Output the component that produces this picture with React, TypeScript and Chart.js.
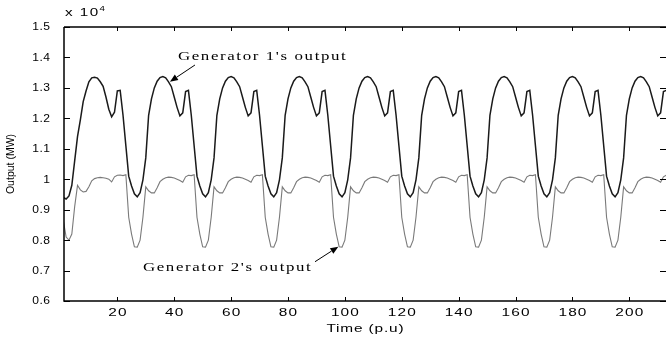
import { useEffect, useRef } from 'react';
import { Chart, registerables } from 'chart.js';

Chart.register(...registerables);

// ---- data (values in MW) ----
const timeStart = 1; // time of first sample (p.u), one sample per unit
const gen1Output = [
  9400, 9350, 9450, 9800, 10600,
  11400, 11950, 12550, 12900, 13200, 13330, 13350, 13320, 13200, 13050, 12700, 12300, 12050, 12200, 12900, 12920, 12100, 11100, 10100, 9780, 9520, 9420, 9560, 9980,
  10700, 12100, 12640, 13000, 13220, 13340, 13370, 13330, 13200, 13040, 12700, 12360, 12080, 12180, 12880, 12920, 12100, 11100, 10100, 9780, 9520, 9420, 9560, 9980,
  10700, 12100, 12640, 13000, 13220, 13340, 13370, 13330, 13200, 13040, 12700, 12360, 12080, 12180, 12880, 12920, 12100, 11100, 10100, 9780, 9520, 9420, 9560, 9980,
  10700, 12100, 12640, 13000, 13220, 13340, 13370, 13330, 13200, 13040, 12700, 12360, 12080, 12180, 12880, 12920, 12100, 11100, 10100, 9780, 9520, 9420, 9560, 9980,
  10700, 12100, 12640, 13000, 13220, 13340, 13370, 13330, 13200, 13040, 12700, 12360, 12080, 12180, 12880, 12920, 12100, 11100, 10100, 9780, 9520, 9420, 9560, 9980,
  10700, 12100, 12640, 13000, 13220, 13340, 13370, 13330, 13200, 13040, 12700, 12360, 12080, 12180, 12880, 12920, 12100, 11100, 10100, 9780, 9520, 9420, 9560, 9980,
  10700, 12100, 12640, 13000, 13220, 13340, 13370, 13330, 13200, 13040, 12700, 12360, 12080, 12180, 12880, 12920, 12100, 11100, 10100, 9780, 9520, 9420, 9560, 9980,
  10700, 12100, 12640, 13000, 13220, 13340, 13370, 13330, 13200, 13040, 12700, 12360, 12080, 12180, 12880, 12920, 12100, 11100, 10100, 9780, 9520, 9420, 9560, 9980,
  10700, 12100, 12640, 13000, 13220, 13340, 13370, 13330, 13200, 13040, 12700, 12360, 12080, 12180, 12880, 12920,
];
const gen2Output = [
  8650, 8100, 8000, 8200, 9100,
  9800, 9650, 9580, 9600, 9750, 9950, 10020, 10050, 10060, 10050, 10030, 10000, 9910, 10080, 10130, 10140, 10120, 10150, 8750, 8200, 7780, 7770, 8000, 8750,
  9750, 9620, 9550, 9550, 9720, 9920, 10000, 10050, 10070, 10060, 10040, 10000, 9960, 9900, 10080, 10130, 10120, 10150, 8750, 8200, 7780, 7770, 8000, 8750,
  9750, 9620, 9550, 9550, 9720, 9920, 10000, 10050, 10070, 10060, 10040, 10000, 9960, 9900, 10080, 10130, 10120, 10150, 8750, 8200, 7780, 7770, 8000, 8750,
  9750, 9620, 9550, 9550, 9720, 9920, 10000, 10050, 10070, 10060, 10040, 10000, 9960, 9900, 10080, 10130, 10120, 10150, 8750, 8200, 7780, 7770, 8000, 8750,
  9750, 9620, 9550, 9550, 9720, 9920, 10000, 10050, 10070, 10060, 10040, 10000, 9960, 9900, 10080, 10130, 10120, 10150, 8750, 8200, 7780, 7770, 8000, 8750,
  9750, 9620, 9550, 9550, 9720, 9920, 10000, 10050, 10070, 10060, 10040, 10000, 9960, 9900, 10080, 10130, 10120, 10150, 8750, 8200, 7780, 7770, 8000, 8750,
  9750, 9620, 9550, 9550, 9720, 9920, 10000, 10050, 10070, 10060, 10040, 10000, 9960, 9900, 10080, 10130, 10120, 10150, 8750, 8200, 7780, 7770, 8000, 8750,
  9750, 9620, 9550, 9550, 9720, 9920, 10000, 10050, 10070, 10060, 10040, 10000, 9960, 9900, 10080, 10130, 10120, 10150, 8750, 8200, 7780, 7770, 8000, 8750,
  9750, 9620, 9550, 9550, 9720, 9920, 10000, 10050, 10070, 10060, 10040, 10000, 9960, 9900, 10080, 10130,
];
const xTickValues = [20, 40, 60, 80, 100, 120, 140, 160, 180, 200];
const yTickValues = [6000, 7000, 8000, 9000, 10000, 11000, 12000, 13000, 14000, 15000];
const yTickLabels = ['0.6', '0.7', '0.8', '0.9', '1', '1.1', '1.2', '1.3', '1.4', '1.5'];
const xAxisTitle = 'Time (p.u)';
const yAxisTitle = 'Output (MW)';
const yExponentBase = 'x 10';
const yExponent = '4';
const seriesNames = ["Generator 1's output", "Generator 2's output"];

// annotation anchors in data units (time, MW)
const annotationText = [seriesNames[0], seriesNames[1]];
const annotationTextX = [41.3, 29.0];
const annotationTextY = [13932, 7001];
const arrowFromX = [47.3, 89.5];
const arrowFromY = [13752, 7290];
const arrowToX = [38.5, 97.7];
const arrowToY = [13203, 7783];

const X_MIN = 1.25;
const X_MAX = 212.9;
const Y_MIN = 6000;
const Y_MAX = 15000;

function drawText(
  ctx: CanvasRenderingContext2D,
  text: string,
  x: number,
  y: number,
  font: string,
  sx: number,
  ls: number,
  align: 'left' | 'center' | 'right',
  baseline: CanvasTextBaseline
) {
  ctx.save();
  ctx.font = font;
  (ctx as any).letterSpacing = ls + 'px';
  ctx.textAlign = 'left';
  ctx.textBaseline = baseline;
  const w = ctx.measureText(text).width - ls;
  const total = w * sx;
  const left = align === 'left' ? x : align === 'center' ? x - total / 2 : x - total;
  ctx.translate(left, y);
  ctx.scale(sx, 1);
  ctx.fillStyle = '#000';
  ctx.fillText(text, 0, 0);
  ctx.restore();
}

const matlabAxes = {
  id: 'matlabAxes',
  afterDraw(chart: any) {
    const ctx: CanvasRenderingContext2D = chart.ctx;
    const { left, right, top, bottom } = chart.chartArea;
    const xs = chart.scales.x;
    const ys = chart.scales.y;
    ctx.save();
    ctx.strokeStyle = '#000';
    ctx.lineWidth = 1.5;
    ctx.beginPath();
    ctx.moveTo(left, top);
    ctx.lineTo(left, bottom);
    ctx.lineTo(right, bottom);
    ctx.moveTo(left, top);
    ctx.lineTo(right, top);
    ctx.stroke();

    ctx.lineWidth = 1;
    ctx.beginPath();
    yTickValues.forEach((v) => {
      const py = Math.round(ys.getPixelForValue(v)) + 0.5;
      ctx.moveTo(left, py);
      ctx.lineTo(left + 6, py);
      ctx.moveTo(right, py);
      ctx.lineTo(right - 6, py);
    });
    xTickValues.forEach((v) => {
      const px = Math.round(xs.getPixelForValue(v)) + 0.5;
      ctx.moveTo(px, bottom);
      ctx.lineTo(px, bottom - 4);
      ctx.moveTo(px, top);
      ctx.lineTo(px, top + 4);
    });
    ctx.stroke();

    const tickFont = '10.5px "Liberation Sans", Arial, sans-serif';
    yTickValues.forEach((v, i) => {
      const py = ys.getPixelForValue(v);
      drawText(ctx, yTickLabels[i], 50, py + 0.5, tickFont, 1.15, 0.4, 'right', 'middle');
    });
    xTickValues.forEach((v) => {
      const px = xs.getPixelForValue(v);
      drawText(ctx, String(v), px, 316, '11px "Liberation Sans", Arial, sans-serif', 1.4, 0.8, 'center', 'alphabetic');
    });

    drawText(ctx, xAxisTitle, (left + right) / 2, 331.5, '11px "Liberation Sans", Arial, sans-serif', 1.4, 0.6, 'center', 'alphabetic');
    drawText(ctx, yExponentBase, 65, 16, '10.5px "Liberation Sans", Arial, sans-serif', 1.45, 1, 'left', 'alphabetic');
    drawText(ctx, yExponent, 99.5, 11, '7.5px "Liberation Sans", Arial, sans-serif', 1.3, 0, 'left', 'alphabetic');

    ctx.save();
    ctx.translate(11, (top + bottom) / 2);
    ctx.rotate(-Math.PI / 2);
    ctx.font = '10.5px "Liberation Sans", Arial, sans-serif';
    ctx.fillStyle = '#000';
    ctx.textAlign = 'center';
    ctx.textBaseline = 'middle';
    ctx.fillText(yAxisTitle, 0, 0);
    ctx.restore();

    // annotations with arrows
    annotationText.forEach((t, i) => {
      const tx = xs.getPixelForValue(annotationTextX[i]);
      const ty = ys.getPixelForValue(annotationTextY[i]);
      drawText(ctx, t, tx, ty, '12.5px "Liberation Serif", "Times New Roman", serif', 1.35, 1.2, 'left', 'alphabetic');
      const x0 = xs.getPixelForValue(arrowFromX[i]);
      const y0 = ys.getPixelForValue(arrowFromY[i]);
      const x1 = xs.getPixelForValue(arrowToX[i]);
      const y1 = ys.getPixelForValue(arrowToY[i]);
      const ang = Math.atan2(y1 - y0, x1 - x0);
      const hl = 8;
      const hw = 3.2;
      const bx = x1 - hl * Math.cos(ang);
      const by = y1 - hl * Math.sin(ang);
      ctx.strokeStyle = '#000';
      ctx.lineWidth = 1;
      ctx.beginPath();
      ctx.moveTo(x0, y0);
      ctx.lineTo(bx, by);
      ctx.stroke();
      ctx.fillStyle = '#000';
      ctx.beginPath();
      ctx.moveTo(x1, y1);
      ctx.lineTo(bx + hw * Math.sin(ang), by - hw * Math.cos(ang));
      ctx.lineTo(bx - hw * Math.sin(ang), by + hw * Math.cos(ang));
      ctx.closePath();
      ctx.fill();
    });
    ctx.restore();
  },
};

export default function App() {
  const ref = useRef<HTMLCanvasElement | null>(null);
  useEffect(() => {
    if (!ref.current) return;
    const chart = new Chart(ref.current, {
      type: 'line',
      data: {
        datasets: [
          {
            label: seriesNames[1],
            data: gen2Output.map((v, i) => ({ x: timeStart + i, y: v })),
            borderColor: '#7a7a7a',
            borderWidth: 1.1,
            pointRadius: 0,
            tension: 0,
            clip: 0,
          },
          {
            label: seriesNames[0],
            data: gen1Output.map((v, i) => ({ x: timeStart + i, y: v })),
            borderColor: '#1a1a1a',
            borderWidth: 1.5,
            pointRadius: 0,
            tension: 0,
            clip: 0,
          },
        ],
      },
      options: {
        animation: false,
        responsive: false,
        devicePixelRatio: 1,
        events: [],
        layout: { padding: { left: 64, right: 0, top: 27, bottom: 41 } },
        plugins: { legend: { display: false }, tooltip: { enabled: false } },
        scales: {
          x: { type: 'linear', min: X_MIN, max: X_MAX, display: false },
          y: { type: 'linear', min: Y_MIN, max: Y_MAX, display: false },
        },
      },
      plugins: [matlabAxes],
    } as any);
    return () => chart.destroy();
  }, []);
  return (
    <div style={{ position: 'fixed', left: 0, top: 0, width: 666, height: 342, background: '#fff' }}>
      <canvas ref={ref} width={666} height={342} style={{ display: 'block', width: 666, height: 342 }} />
    </div>
  );
}
